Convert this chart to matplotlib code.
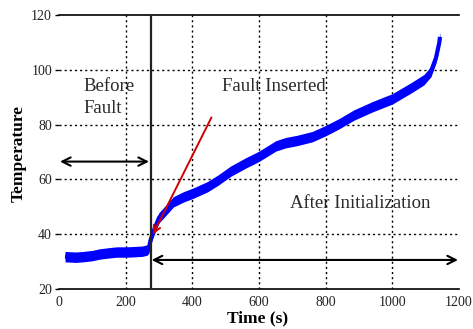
import matplotlib
matplotlib.use("Agg")
import matplotlib.pyplot as plt
import numpy as np

plt.rcParams['font.family'] = ['Liberation Serif', 'DejaVu Serif']

time_s = [18, 50, 72, 100, 123, 150, 174, 200, 223, 250, 264, 270, 274, 280,
          289, 300, 313, 330, 343, 373, 403, 445, 478, 515, 560, 598, 625, 650,
          680, 714, 760, 800, 840, 885, 940, 1000, 1056, 1095, 1116, 1131, 1141, 1143]
temp = [31.8, 31.6, 31.8, 32.2, 32.8, 33.2, 33.5, 33.5, 33.6, 33.8, 34.2, 35.0,
        37.5, 40.0, 42.7, 46.0, 47.7, 50.0, 51.8, 53.6, 55.0, 57.3, 59.8, 63.0,
        66.0, 68.3, 70.3, 72.2, 73.4, 74.2, 75.6, 77.8, 80.3, 83.5, 86.5, 89.4,
        93.4, 96.4, 99.4, 104.4, 110.0, 112.0]

fault_time = 276
tangent_start = (461, 83.5)
tangent_end = (278, 39.0)
before_arrow = (3, 270, 66.5)
after_arrow = (278, 1197, 30.6)

xticks = [0, 200, 400, 600, 800, 1000, 1200]
yticks = [20, 40, 60, 80, 100, 120]

fig = plt.figure(figsize=(4.73, 3.29), dpi=100)
ax = fig.add_axes([59/473, 1-289/329, 400/473, 274/329])

ax.set_xlim(0, 1200)
ax.set_ylim(20, 120)
ax.set_xticks(xticks)
ax.set_yticks(yticks)

for s in ['left', 'right']:
    ax.spines[s].set_visible(False)
for s in ['top', 'bottom']:
    ax.spines[s].set_linewidth(1.2)
    ax.spines[s].set_color('black')

ax.tick_params(axis='x', length=0, pad=5, labelsize=10, labelcolor='#222222')
ax.tick_params(axis='y', length=3, width=1, direction='out', pad=2, labelsize=10,
               labelcolor='#222222')

for x in xticks[1:-1]:
    ax.axvline(x, color='black', linestyle=(0, (1.5, 2.2)), linewidth=1.0, zorder=1)
for y in yticks[1:-1]:
    ax.axhline(y, color='black', linestyle=(0, (1.5, 2.2)), linewidth=1.0, zorder=1)

t = np.array(time_s)
T = np.array(temp)
hw = 1.9
ax.fill_between(t, T - hw, T + hw, color='#0000ff', linewidth=0, zorder=3)
ax.plot(t, T, color='#0000ff', linewidth=3, zorder=3, solid_capstyle='butt')

ax.axvline(fault_time, color='#222222', linewidth=1.6, zorder=4)

ax.annotate('', xy=tangent_end, xytext=tangent_start,
            arrowprops=dict(arrowstyle='->,head_length=0.5,head_width=0.25',
                            color='#d00000', lw=1.4), zorder=5)

ax.annotate('', xy=(before_arrow[0], before_arrow[2]),
            xytext=(before_arrow[1], before_arrow[2]),
            arrowprops=dict(arrowstyle='<->,head_length=0.6,head_width=0.3',
                            color='black', lw=1.5, shrinkA=0, shrinkB=0), zorder=5)
ax.annotate('', xy=(after_arrow[0], after_arrow[2]),
            xytext=(after_arrow[1], after_arrow[2]),
            arrowprops=dict(arrowstyle='<->,head_length=0.6,head_width=0.3',
                            color='black', lw=1.5, shrinkA=0, shrinkB=0), zorder=5)

txt_kw = dict(fontsize=13.5, color='#2a2a2a', va='baseline', ha='left', zorder=6)
ax.text(72, 92.3, 'Before', **txt_kw)
ax.text(72, 84.2, 'Fault', **txt_kw)
ax.text(489, 92.3, 'Fault Inserted', **txt_kw)
ax.text(693, 49.6, 'After Initialization', **txt_kw)

fig.text(257.5/473, 1-318/329, 'Time (s)', fontsize=12.5, fontweight='bold',
         ha='center', va='center')
fig.text(18.5/473, 1-154/329, 'Temperature', fontsize=12.5, fontweight='bold',
         ha='center', va='center', rotation=90)

fig.savefig('out.png', dpi=100)
